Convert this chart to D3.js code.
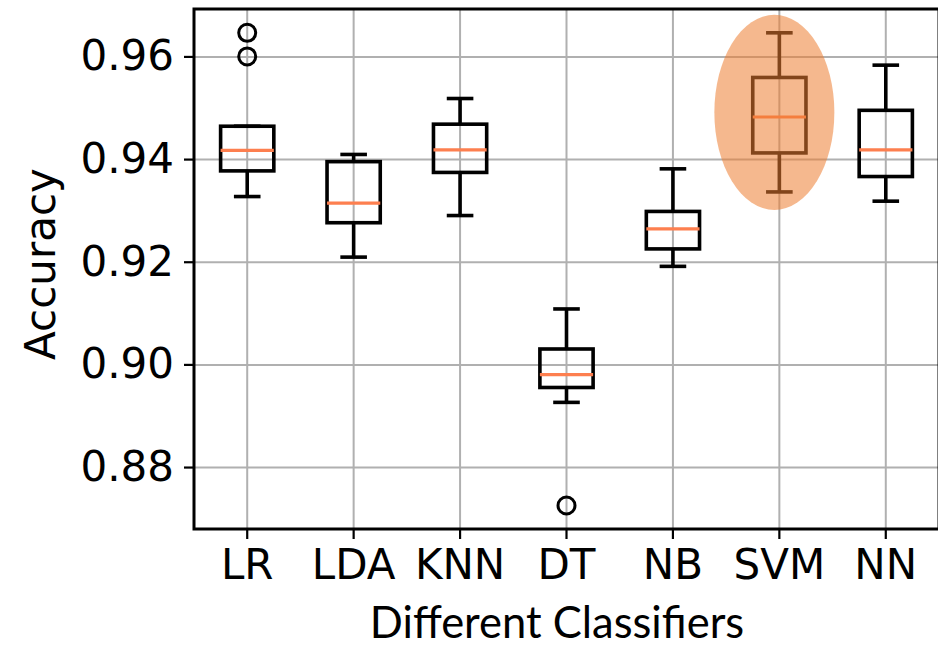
<!DOCTYPE html>
<html>
<head>
<meta charset="utf-8">
<script src="https://cdn.jsdelivr.net/npm/d3@7"></script>
<style>
  html, body { margin: 0; padding: 0; background: #fff; }
  svg { display: block; }
</style>
</head>
<body>
<svg id="chart" width="938" height="647"></svg>
<script>
// Accuracy distributions for each classifier (box-plot summary statistics)
const classifiers  = ["LR", "LDA", "KNN", "DT", "NB", "SVM", "NN"];
const whiskerLow   = [0.9327, 0.9209, 0.9290, 0.8926, 0.9191, 0.9336, 0.9318];
const quartile1    = [0.9377, 0.9276, 0.9374, 0.8955, 0.9225, 0.9412, 0.9366];
const medians      = [0.9417, 0.9314, 0.9418, 0.8980, 0.9264, 0.9482, 0.9418];
const quartile3    = [0.9464, 0.9395, 0.9468, 0.9030, 0.9298, 0.9559, 0.9495];
const whiskerHigh  = [0.9464, 0.9409, 0.9518, 0.9108, 0.9381, 0.9646, 0.9583];
const outliers     = [[0.9600, 0.9646], [], [], [0.8725], [], [], []];
const yTicks       = [0.88, 0.90, 0.92, 0.94, 0.96];
const highlighted  = "SVM";

const svg = d3.select("#chart");
const plotL = 194, plotR = 939, plotT = 9, plotB = 529;

const x = d3.scaleBand().domain(classifiers).range([plotL, plotR]).padding(0);
const cx = c => x(c) + x.bandwidth() / 2;
const y = d3.scaleLinear().domain([0.86793, 0.96924]).range([plotB, plotT]);

const boxW = x.bandwidth() * 0.5;
const capW = boxW * 0.5;
const gridColor = "#b0b0b0";

// grid lines
svg.append("g")
  .attr("transform", `translate(${plotL},0)`)
  .call(d3.axisLeft(y).tickValues(yTicks).tickSize(-(plotR - plotL)).tickFormat(""))
  .call(g => g.select(".domain").remove())
  .call(g => g.selectAll("line").attr("stroke", gridColor).attr("stroke-width", 2));

svg.append("g")
  .attr("transform", `translate(0,${plotB})`)
  .call(d3.axisBottom(x).tickSize(-(plotB - plotT)).tickFormat(""))
  .call(g => g.select(".domain").remove())
  .call(g => g.selectAll("line").attr("stroke", gridColor).attr("stroke-width", 2));

// boxes
const data = classifiers.map((c, i) => ({
  name: c, lo: whiskerLow[i], q1: quartile1[i], med: medians[i],
  q3: quartile3[i], hi: whiskerHigh[i], out: outliers[i]
}));

const boxes = svg.append("g").selectAll("g").data(data).join("g");
const lw = 3.6;

boxes.append("line")
  .attr("x1", d => cx(d.name)).attr("x2", d => cx(d.name))
  .attr("y1", d => y(d.q1)).attr("y2", d => y(d.lo))
  .attr("stroke", "#000").attr("stroke-width", lw);
boxes.append("line")
  .attr("x1", d => cx(d.name)).attr("x2", d => cx(d.name))
  .attr("y1", d => y(d.q3)).attr("y2", d => y(d.hi))
  .attr("stroke", "#000").attr("stroke-width", lw);
boxes.append("line")
  .attr("x1", d => cx(d.name) - capW / 2).attr("x2", d => cx(d.name) + capW / 2)
  .attr("y1", d => y(d.lo)).attr("y2", d => y(d.lo))
  .attr("stroke", "#000").attr("stroke-width", lw);
boxes.append("line")
  .attr("x1", d => cx(d.name) - capW / 2).attr("x2", d => cx(d.name) + capW / 2)
  .attr("y1", d => y(d.hi)).attr("y2", d => y(d.hi))
  .attr("stroke", "#000").attr("stroke-width", lw);
boxes.append("rect")
  .attr("x", d => cx(d.name) - boxW / 2).attr("width", boxW)
  .attr("y", d => y(d.q3)).attr("height", d => y(d.q1) - y(d.q3))
  .attr("fill", "none").attr("stroke", "#000").attr("stroke-width", lw);
boxes.append("line")
  .attr("x1", d => cx(d.name) - boxW / 2).attr("x2", d => cx(d.name) + boxW / 2)
  .attr("y1", d => y(d.med)).attr("y2", d => y(d.med))
  .attr("stroke", "#fd7f4f").attr("stroke-width", 3.2);
boxes.selectAll("circle").data(d => d.out.map(v => ({ name: d.name, v }))).join("circle")
  .attr("cx", d => cx(d.name)).attr("cy", d => y(d.v)).attr("r", 8.5)
  .attr("fill", "none").attr("stroke", "#000").attr("stroke-width", 3);

// highlight ellipse around the best classifier
const hl = data.find(d => d.name === highlighted);
svg.append("ellipse")
  .attr("cx", cx(highlighted) - 5)
  .attr("cy", (y(hl.hi) + y(hl.lo)) / 2)
  .attr("rx", 60)
  .attr("ry", (y(hl.lo) - y(hl.hi)) / 2 + 18)
  .attr("fill", "#ed7d31").attr("fill-opacity", 0.55);

// axes
const yAxis = svg.append("g")
  .attr("transform", `translate(${plotL},0)`)
  .call(d3.axisLeft(y).tickValues(yTicks).tickFormat(d3.format(".2f")).tickSize(10).tickPadding(10));
const xAxis = svg.append("g")
  .attr("transform", `translate(0,${plotB})`)
  .call(d3.axisBottom(x).tickSize(10).tickPadding(10));
[yAxis, xAxis].forEach(a => {
  a.select(".domain").remove();
  a.selectAll("line").attr("stroke", "#000").attr("stroke-width", 2.2);
  a.selectAll("text").attr("fill", "#000")
    .style("font-family", "'DejaVu Sans', sans-serif").style("font-size", "42px");
});

// spines
svg.append("rect")
  .attr("x", plotL).attr("y", plotT).attr("width", plotR - plotL).attr("height", plotB - plotT)
  .attr("fill", "none").attr("stroke", "#000").attr("stroke-width", 3);

// axis titles
svg.append("text")
  .attr("transform", `translate(55,${(plotT + plotB) / 2 - 5}) rotate(-90)`)
  .attr("text-anchor", "middle")
  .style("font-family", "'DejaVu Sans', sans-serif").style("font-size", "42px")
  .text("Accuracy");
svg.append("text")
  .attr("x", 557).attr("y", 638)
  .attr("text-anchor", "middle")
  .style("font-family", "Lato, 'Open Sans', sans-serif").style("font-size", "43.5px")
  .text("Different Classifiers");
</script>
</body>
</html>
